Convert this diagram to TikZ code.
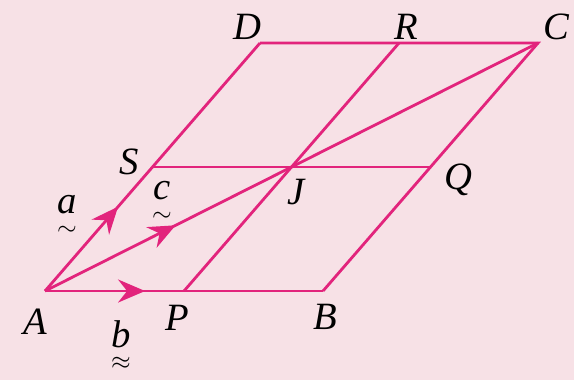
\documentclass[tikz,border=0pt]{standalone}
\usepackage{amsmath}
\usepackage{fontspec}
\setmainfont{Liberation Serif}
\usepackage{xcolor}
\usetikzlibrary{arrows.meta,decorations.markings,calc}

\definecolor{bgpink}{RGB}{247,225,230}
\definecolor{edge}{RGB}{226,36,124}

\newcommand{\vecu}[2]{$\underset{#2}{\textit{#1}}$}

\begin{document}
\begin{tikzpicture}[
  x=0.02cm, y=-0.02cm,
  font=\fontsize{22}{26}\selectfont\itshape,
  side/.style={draw=edge, line width=1.6pt},
  midarrow/.style={side, postaction={decorate},
    decoration={markings, mark=at position #1 with
      {\arrow[edge]{Stealth[length=5.4mm, width=4.6mm, inset=1.8mm]}}}},
  lbl/.style={inner sep=1pt}
]
\fill[bgpink] (0,0) rectangle (574,380);
\useasboundingbox (0,0) rectangle (574,380);

% corners and midpoints
\coordinate (A) at (45,291);
\coordinate (B) at (323,291);
\coordinate (C) at (538,43);
\coordinate (D) at (260,43);
\coordinate (P) at ($(A)!0.5!(B)$);
\coordinate (R) at ($(D)!0.5!(C)$);
\coordinate (S) at ($(A)!0.5!(D)$);
\coordinate (Q) at ($(B)!0.5!(C)$);

% parallelogram and its lines
\draw[side] (B) -- (C) -- (D);
\draw[midarrow=0.36] (A) -- (B);
\draw[midarrow=0.34] (A) -- (D);
\draw[midarrow=0.265] (A) -- (C);
\draw[side] (S) -- (Q);
\draw[side] (P) -- (R);

% letters
\node[lbl] (lA) at (35,322) {A};
\node[lbl] (lP) at (177,318) {P};
\node[lbl] (lB) at (325,317) {B};
\node[lbl] (lS) at (129,162) {S};
\node[lbl] (lJ) at (296,192) {J};
\node[lbl] (lQ) at (458,180) {Q};
\node[lbl] (lD) at (247,27) {D};
\node[lbl] (lR) at (406,27) {R};
\node[lbl] (lC) at (556,27) {C};
\node[lbl] (la) at (67,217) {\vecu{a}{\sim}};
\node[lbl] (lc) at (162,203) {\vecu{c}{\sim}};
\node[lbl] (lb) at (121,347) {\vecu{b}{\approx}};
\end{tikzpicture}
\end{document}
